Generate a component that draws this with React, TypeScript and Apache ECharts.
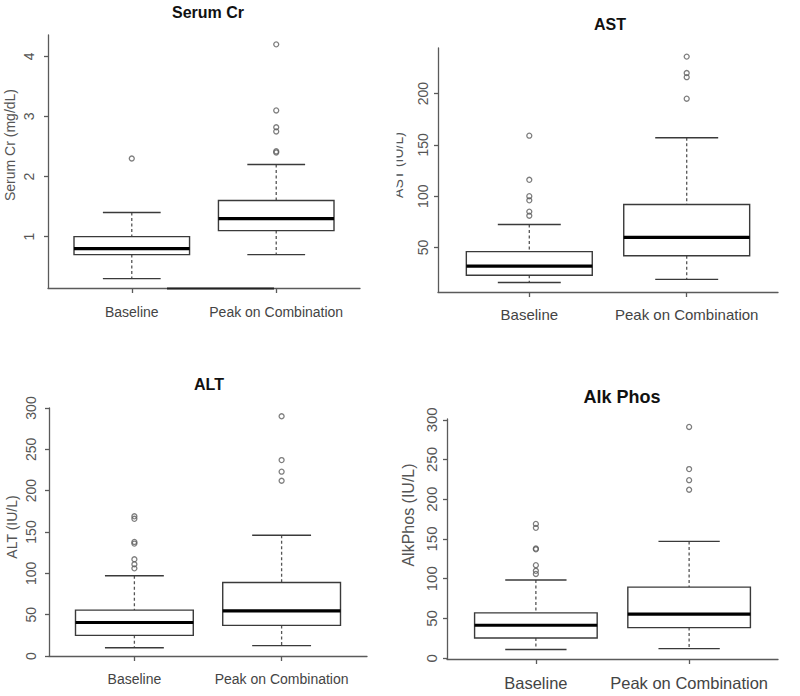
import React, { useEffect, useRef } from "react";
import * as echarts from "echarts";

// ---------- data ----------
const groups = ["Baseline", "Peak on Combination"];

// five-number boxes: [lower whisker, Q1, median, Q3, upper whisker]
const crBaselineBox = [0.3, 0.7, 0.8, 1.0, 1.4];
const crPeakBox = [0.7, 1.1, 1.3, 1.6, 2.2];
const crBaselineOut = [2.3];
const crPeakOut = [2.4, 2.42, 2.75, 2.82, 3.1, 4.2];
const crTicks = [1, 2, 3, 4];

const astBaselineBox = [16, 23, 32, 46, 72.5];
const astPeakBox = [19, 42, 60, 92, 157];
const astBaselineOut = [81, 85, 96, 100, 116, 159];
const astPeakOut = [195, 216, 220, 236];
const astTicks = [50, 100, 150, 200];

const altBaselineBox = [10, 25, 40.5, 55.5, 97];
const altPeakBox = [12.5, 37, 54.5, 89, 146];
const altBaselineOut = [106, 111, 117, 136, 138, 166, 169];
const altPeakOut = [212, 223, 237, 290];
const altTicks = [0, 50, 100, 150, 200, 250, 300];

const alkBaselineBox = [11, 25.5, 41.5, 57, 98.5];
const alkPeakBox = [12, 38.5, 55.5, 89.5, 147];
const alkBaselineOut = [106, 110, 117, 137, 138, 164, 169];
const alkPeakOut = [212, 224, 238, 291];
const alkTicks = [0, 50, 100, 150, 200, 250, 300];

const titles = ["Serum Cr", "AST", "ALT", "Alk Phos"];
const yNames = ["Serum Cr (mg/dL)", "AST (IU/L)", "ALT (IU/L)", "AlkPhos (IU/L)"];

// ---------- layout ----------
const FONT = '"Liberation Sans", Arial, Helvetica, sans-serif';
const BOX_W = 0.8;
const CAP_W = 0.4;

const panels = [
  {
    grid: { left: 48, top: 35, width: 312, height: 253 },
    yMin: 0.144, yMax: 4.356, ticks: crTicks,
    boxes: [crBaselineBox, crPeakBox], outs: [crBaselineOut, crPeakOut],
    title: { x: 208, y: 4, size: 16 },
    yName: { x: 10, y: 145, size: 14 },
    tickSize: 14, tickMargin: 12, xSize: 14, xMargin: 17,
  },
  {
    grid: { left: 438, top: 48, width: 340, height: 244 },
    yMin: 6.7, yMax: 244.4, ticks: astTicks,
    boxes: [astBaselineBox, astPeakBox], outs: [astBaselineOut, astPeakOut],
    title: { x: 610, y: 16, size: 16 },
    yName: { x: 397.5, y: 165, size: 14 },
    tickSize: 14, tickMargin: 8, xSize: 15, xMargin: 15,
  },
  {
    grid: { left: 49, top: 408, width: 318, height: 248 },
    yMin: 0, yMax: 300, ticks: altTicks,
    boxes: [altBaselineBox, altPeakBox], outs: [altBaselineOut, altPeakOut],
    title: { x: 209, y: 376, size: 16 },
    yName: { x: 12, y: 527, size: 14 },
    tickSize: 14, tickMargin: 11, xSize: 14, xMargin: 16,
  },
  {
    grid: { left: 447, top: 419, width: 331, height: 240 },
    yMin: -1, yMax: 301, ticks: alkTicks,
    boxes: [alkBaselineBox, alkPeakBox], outs: [alkBaselineOut, alkPeakOut],
    title: { x: 622, y: 388, size: 18 },
    yName: { x: 408, y: 515, size: 16 },
    tickSize: 15, tickMargin: 8, xSize: 16.5, xMargin: 15,
  },
];

const AXIS_COLOR = "#5a5a5a";
const BOX_COLOR = "#3a3a3a";

function renderBox(params: any, api: any) {
  const x = api.value(0);
  const lo = api.value(1);
  const q1 = api.value(2);
  const med = api.value(3);
  const q3 = api.value(4);
  const hi = api.value(5);
  const bw = api.size([BOX_W, 0])[0];
  const cw = api.size([CAP_W, 0])[0];
  const [cx, yLo] = api.coord([x, lo]);
  const yQ1 = api.coord([x, q1])[1];
  const yMed = api.coord([x, med])[1];
  const yQ3 = api.coord([x, q3])[1];
  const yHi = api.coord([x, hi])[1];
  const solid = { stroke: BOX_COLOR, lineWidth: 1.4, fill: null };
  const dashed = { stroke: "#555", lineWidth: 1.3, lineDash: [3, 2.5], fill: null };
  return {
    type: "group",
    children: [
      { type: "line", shape: { x1: cx, y1: yHi, x2: cx, y2: yQ3 }, style: dashed },
      { type: "line", shape: { x1: cx, y1: yQ1, x2: cx, y2: yLo }, style: dashed },
      { type: "line", shape: { x1: cx - cw / 2, y1: yHi, x2: cx + cw / 2, y2: yHi }, style: solid },
      { type: "line", shape: { x1: cx - cw / 2, y1: yLo, x2: cx + cw / 2, y2: yLo }, style: solid },
      {
        type: "rect",
        shape: { x: cx - bw / 2, y: yQ3, width: bw, height: yQ1 - yQ3 },
        style: { stroke: BOX_COLOR, lineWidth: 1.4, fill: "rgba(0,0,0,0)" },
      },
      {
        type: "line",
        shape: { x1: cx - bw / 2, y1: yMed, x2: cx + bw / 2, y2: yMed },
        style: { stroke: "#000", lineWidth: 3.2 },
      },
    ],
  };
}

export default function App() {
  const ref = useRef<HTMLDivElement>(null);

  useEffect(() => {
    if (!ref.current) return;
    const chart = echarts.init(ref.current, null, { renderer: "svg" });

    const grids: any[] = [];
    const xAxes: any[] = [];
    const yAxes: any[] = [];
    const series: any[] = [];
    const titleOpts: any[] = [];
    const graphics: any[] = [];

    panels.forEach((p, i) => {
      grids.push({ ...p.grid, containLabel: false });
      xAxes.push({
        type: "value",
        gridIndex: i,
        min: 0.42,
        max: 2.58,
        axisLine: { show: true, onZero: false, lineStyle: { color: AXIS_COLOR, width: 1.3 } },
        axisTick: {
          show: true,
          customValues: [1, 2],
          length: 5,
          lineStyle: { color: AXIS_COLOR, width: 1.3 },
        },
        axisLabel: {
          customValues: [1, 2],
          formatter: (v: number) => groups[Math.round(v) - 1] ?? "",
          fontFamily: FONT,
          fontSize: p.xSize,
          color: "#444",
          margin: p.xMargin,
        },
        splitLine: { show: false },
      });
      yAxes.push({
        type: "value",
        gridIndex: i,
        min: p.yMin,
        max: p.yMax,
        axisLine: { show: true, lineStyle: { color: AXIS_COLOR, width: 1.3 } },
        axisTick: {
          show: true,
          customValues: p.ticks,
          length: 4,
          lineStyle: { color: AXIS_COLOR, width: 1.3 },
        },
        axisLabel: {
          customValues: p.ticks,
          rotate: 90,
          fontFamily: FONT,
          fontSize: p.tickSize,
          color: "#555",
          margin: p.tickMargin,
        },
        splitLine: { show: false },
      });
      series.push({
        type: "custom",
        xAxisIndex: i,
        yAxisIndex: i,
        renderItem: renderBox,
        encode: { x: 0, y: [1, 2, 3, 4, 5] },
        data: p.boxes.map((b, k) => [k + 1, ...b]),
        z: 3,
      });
      const outPts: number[][] = [];
      p.outs.forEach((arr, k) => arr.forEach((v) => outPts.push([k + 1, v])));
      series.push({
        type: "scatter",
        xAxisIndex: i,
        yAxisIndex: i,
        symbol: "circle",
        symbolSize: 5,
        itemStyle: { color: "rgba(0,0,0,0)", borderColor: "#5c5c5c", borderWidth: 1.3 },
        data: outPts,
        z: 4,
      });
      titleOpts.push({
        text: titles[i],
        left: p.title.x,
        top: p.title.y,
        textAlign: "center",
        padding: 0,
        textStyle: { fontFamily: FONT, fontSize: p.title.size, fontWeight: "bold", color: "#111" },
      });
      graphics.push({
        type: "text",
        x: p.yName.x,
        y: p.yName.y,
        rotation: Math.PI / 2,
        z: 1,
        style: {
          text: yNames[i],
          fontFamily: FONT,
          fontSize: p.yName.size,
          fill: "#555",
          textAlign: "center",
          textVerticalAlign: "middle",
        },
      });
    });

    // the AST axis title is cut off by the panel edge in the original figure
    graphics.push({
      type: "rect",
      z: 5,
      shape: { x: 362, y: 90, width: 34.5, height: 160 },
      style: { fill: "#fff" },
    });
    // darker segment lying on the Serum Cr x axis
    graphics.push({
      type: "line",
      z: 6,
      shape: { x1: 167, y1: 288.5, x2: 274, y2: 288.5 },
      style: { stroke: "#222", lineWidth: 2 },
    });

    chart.setOption({
      animation: false,
      backgroundColor: "#fff",
      title: titleOpts,
      grid: grids,
      xAxis: xAxes,
      yAxis: yAxes,
      series,
      graphic: graphics,
    });

    return () => chart.dispose();
  }, []);

  return (
    <div
      ref={ref}
      style={{ position: "absolute", left: 0, top: 0, width: 800, height: 696 }}
    />
  );
}
